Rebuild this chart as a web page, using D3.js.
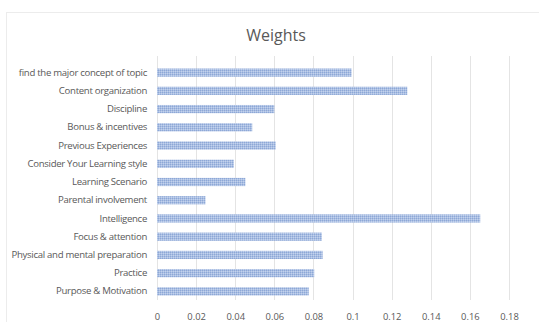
<!DOCTYPE html>
<html>
<head>
<meta charset="utf-8">
<script src="https://cdn.jsdelivr.net/npm/d3@7/dist/d3.min.js"></script>
<style>
  html, body { margin: 0; padding: 0; background: #fff; }
  svg { display: block; }
  text { font-family: "Open Sans", "Noto Sans", sans-serif; fill: #595959; }
</style>
</head>
<body>
<svg id="chart" width="539" height="322"></svg>
<script>
// Factors, top to bottom
const categories = [
  "find the major concept of topic",
  "Content organization",
  "Discipline",
  "Bonus & incentives",
  "Previous Experiences",
  "Consider Your Learning style",
  "Learning Scenario",
  "Parental involvement",
  "Intelligence",
  "Focus & attention",
  "Physical and mental preparation",
  "Practice",
  "Purpose & Motivation"
];
const weights = [0.0995, 0.128, 0.060, 0.0487, 0.0607, 0.0393, 0.0452, 0.0248, 0.1653, 0.0843, 0.0847, 0.0804, 0.0776];
const xTicks = [0, 0.02, 0.04, 0.06, 0.08, 0.1, 0.12, 0.14, 0.16, 0.18];
const chartTitle = "Weights";

const svg = d3.select("#chart");

// Chart frame
svg.append("rect")
  .attr("x", 6.5).attr("y", 12.5)
  .attr("width", 540).attr("height", 320)
  .attr("fill", "#fff")
  .attr("stroke", "#ececec");

// Fine hatched fill for bars
const defs = svg.append("defs");
const pat = defs.append("pattern")
  .attr("id", "hatch")
  .attr("patternUnits", "userSpaceOnUse")
  .attr("width", 2).attr("height", 2);
pat.append("rect").attr("width", 2).attr("height", 2).attr("fill", "#a9bee3");
pat.append("rect").attr("x", 0).attr("y", 0).attr("width", 1).attr("height", 1).attr("fill", "#8ea8d6");
pat.append("rect").attr("x", 1).attr("y", 1).attr("width", 1).attr("height", 1).attr("fill", "#c3d2ec");

const x = d3.scaleLinear().domain([0, 0.18]).range([157, 509]);
const y = d3.scaleBand().domain(categories).range([63.5, 300.5]).paddingInner(0.55).paddingOuter(0.275);

// Vertical gridlines
svg.append("g")
  .selectAll("line")
  .data(xTicks)
  .join("line")
  .attr("x1", d => Math.round(x(d)) + 0.5)
  .attr("x2", d => Math.round(x(d)) + 0.5)
  .attr("y1", 56)
  .attr("y2", 300)
  .attr("stroke", "#e4e4e4")
  .attr("stroke-width", 1);

// Bars
svg.append("g")
  .selectAll("rect")
  .data(categories)
  .join("rect")
  .attr("x", x(0))
  .attr("y", d => y(d))
  .attr("width", (d, i) => x(weights[i]) - x(0))
  .attr("height", y.bandwidth())
  .attr("fill", "url(#hatch)");

// Category axis
const yAxis = svg.append("g")
  .attr("transform", `translate(${x(0) - 10},0)`)
  .call(d3.axisLeft(y).tickSize(0).tickPadding(0));
yAxis.select(".domain").remove();
yAxis.selectAll("text")
  .attr("font-size", "9.6px")
  .attr("font-family", "'Open Sans', sans-serif")
  .attr("fill", "#595959")
  .attr("letter-spacing", "-0.3px");

// Value axis
const xAxis = svg.append("g")
  .attr("transform", "translate(0,309)")
  .call(d3.axisBottom(x).tickValues(xTicks).tickFormat(d3.format("~g")).tickSize(0).tickPadding(4));
xAxis.select(".domain").remove();
xAxis.selectAll("text")
  .attr("font-size", "9.4px")
  .attr("font-family", "'Open Sans', sans-serif")
  .attr("fill", "#595959");

// Title
svg.append("text")
  .attr("x", 276)
  .attr("y", 41)
  .attr("text-anchor", "middle")
  .attr("font-size", "16px")
  .attr("fill", "#595959")
  .text(chartTitle);
</script>
</body>
</html>
